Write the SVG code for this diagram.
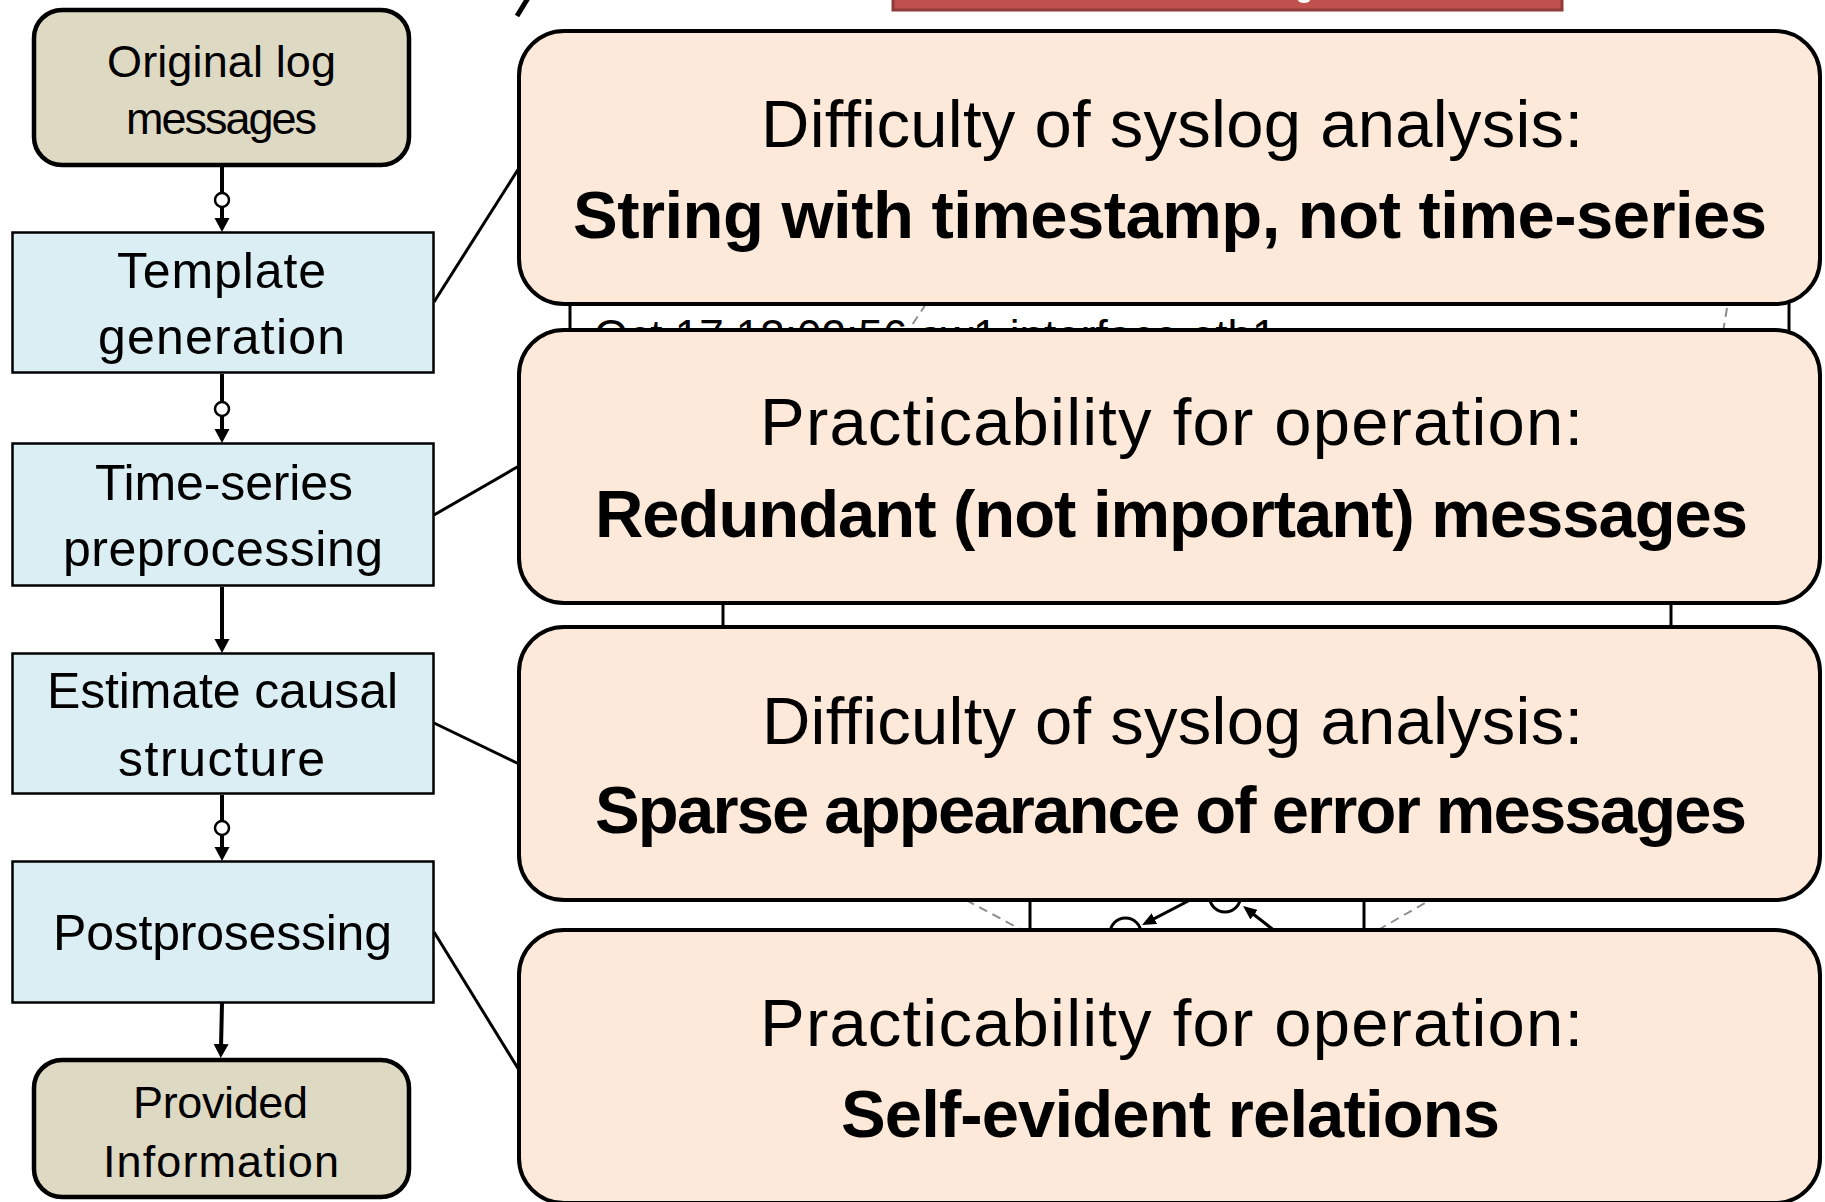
<svg xmlns="http://www.w3.org/2000/svg" width="1825" height="1202" viewBox="0 0 1825 1202">
  <style>
    .lbl { font-family: "Liberation Sans", Arial, sans-serif; fill: #000; }
    .t44 { font-size: 44px; }
    .t45 { font-size: 45px; }
    .t50 { font-size: 50px; }
    .t67 { font-size: 67px; }
    .b { font-weight: bold; }
    .term { fill: #DDD9C3; stroke: #000; stroke-width: 4.5; }
    .step { fill: #DBEEF4; stroke: #000; stroke-width: 2.5; }
    .call { fill: #FDE9D9; stroke: #000; stroke-width: 4; }
    .flow { fill: none; stroke: #000; stroke-width: 4; }
    .tap { fill: #fff; stroke: #000; stroke-width: 2.5; }
    .lead { fill: none; stroke: #000; stroke-width: 3; }
    .frame { fill: none; stroke: #000; stroke-width: 3; }
    .dash { fill: none; stroke: #8C8C8C; stroke-width: 2; stroke-dasharray: 9 6; }
  </style>
  <defs>
    <marker id="ah" viewBox="0 0 14 16" refX="4" refY="8" markerWidth="14" markerHeight="16" markerUnits="userSpaceOnUse" orient="auto">
      <path d="M0,0.5 L14,8 L0,15.5 z" fill="#000"/>
    </marker>
    <marker id="ahs" viewBox="0 0 14 12" refX="4" refY="6" markerWidth="14" markerHeight="12" markerUnits="userSpaceOnUse" orient="auto">
      <path d="M0,0 L14,6 L0,12 z" fill="#000"/>
    </marker>
  </defs>

  <rect width="1825" height="1202" fill="#fff"/>

  <!-- slide backdrop peeking out between the callouts -->
  <g id="backdrop">
    <rect x="893" y="-20" width="669" height="30" fill="#C0504D" stroke="#8E3B39" stroke-width="3"/>
    <ellipse cx="1304" cy="0" rx="6" ry="3" fill="#fff"/>
    <line x1="528" y1="-2" x2="517" y2="16" stroke="#000" stroke-width="5"/>
    <!-- funnel frame edges -->
    <line class="frame" x1="570" y1="295" x2="570" y2="340"/>
    <line class="frame" x1="1789" y1="295" x2="1789" y2="340"/>
    <line class="frame" x1="723" y1="595" x2="723" y2="635"/>
    <line class="frame" x1="1671" y1="595" x2="1671" y2="635"/>
    <line class="frame" x1="1030" y1="892" x2="1030" y2="938"/>
    <line class="frame" x1="1364" y1="892" x2="1364" y2="938"/>
    <text class="lbl t44" x="594" y="351">Oct 17 13:02:56 sw1 interface eth1</text>
    <line class="dash" x1="926" y1="304" x2="906" y2="334"/>
    <line class="dash" x1="1727" y1="308" x2="1723" y2="332"/>
    <line class="dash" x1="966" y1="900" x2="1020" y2="929"/>
    <line class="dash" x1="1378" y1="930" x2="1430" y2="900"/>
    <circle cx="1125.5" cy="933.5" r="15.5" fill="#fff" stroke="#000" stroke-width="3"/>
    <circle cx="1225" cy="896.5" r="15.5" fill="#fff" stroke="#000" stroke-width="3"/>
    <line x1="1194" y1="898" x2="1150.9" y2="920.4" stroke="#000" stroke-width="3" marker-end="url(#ahs)"/>
    <line x1="1280" y1="935" x2="1250.9" y2="912.2" stroke="#000" stroke-width="3" marker-end="url(#ahs)"/>
  </g>

  <!-- flow connectors and callout leaders -->
  <g id="connectors">
    <line class="flow" x1="222" y1="166" x2="222" y2="222" marker-end="url(#ah)"/>
    <circle class="tap" cx="222" cy="200" r="7"/>
    <line class="flow" x1="222" y1="374" x2="222" y2="433" marker-end="url(#ah)"/>
    <circle class="tap" cx="222" cy="409" r="7"/>
    <line class="flow" x1="222" y1="587" x2="222" y2="643" marker-end="url(#ah)"/>
    <line class="flow" x1="222" y1="795" x2="222" y2="851" marker-end="url(#ah)"/>
    <circle class="tap" cx="222" cy="828" r="7"/>
    <line class="flow" x1="222" y1="1003" x2="221" y2="1048" marker-end="url(#ah)"/>

    <line class="lead" x1="434" y1="302" x2="519" y2="168"/>
    <line class="lead" x1="434" y1="515" x2="519" y2="466"/>
    <line class="lead" x1="434" y1="723" x2="519" y2="764"/>
    <line class="lead" x1="434" y1="932" x2="519" y2="1070"/>
  </g>

  <g id="node-original">
    <rect class="term" x="34" y="10" width="375" height="155" rx="28"/>
    <text class="lbl t45" x="107" y="77" textLength="229">Original log</text>
    <text class="lbl t45" x="126" y="134" textLength="191">messages</text>
  </g>

  <g id="node-template">
    <rect class="step" x="12.5" y="232.5" width="421" height="140"/>
    <text class="lbl t50" x="117" y="288" textLength="209">Template</text>
    <text class="lbl t50" x="98" y="354" textLength="247">generation</text>
  </g>

  <g id="node-timeseries">
    <rect class="step" x="12.5" y="443.5" width="421" height="142"/>
    <text class="lbl t50" x="95" y="500" textLength="258">Time-series</text>
    <text class="lbl t50" x="63" y="566" textLength="320">preprocessing</text>
  </g>

  <g id="node-causal">
    <rect class="step" x="12.5" y="653.5" width="421" height="140"/>
    <text class="lbl t50" x="47" y="708" textLength="351">Estimate causal</text>
    <text class="lbl t50" x="118" y="776" textLength="207">structure</text>
  </g>

  <g id="node-post">
    <rect class="step" x="12.5" y="861.5" width="421" height="141"/>
    <text class="lbl t50" x="53" y="950" textLength="339">Postprosessing</text>
  </g>

  <g id="node-provided">
    <rect class="term" x="34" y="1060" width="375" height="137" rx="28"/>
    <text class="lbl t45" x="133" y="1118" textLength="175">Provided</text>
    <text class="lbl t45" x="103" y="1177" textLength="236">Information</text>
  </g>

  <g id="callout-timestamp">
    <rect class="call" x="519" y="31" width="1301" height="273" rx="45"/>
    <text class="lbl t67" x="761" y="147" textLength="822">Difficulty of syslog analysis:</text>
    <text class="lbl t67 b" x="573" y="238" textLength="1194">String with timestamp, not time-series</text>
  </g>

  <g id="callout-redundant">
    <rect class="call" x="519" y="330" width="1301" height="273" rx="45"/>
    <text class="lbl t67" x="760" y="445" textLength="823">Practicability for operation:</text>
    <text class="lbl t67 b" x="595" y="537" textLength="1153">Redundant (not important) messages</text>
  </g>

  <g id="callout-sparse">
    <rect class="call" x="519" y="627" width="1301" height="273" rx="45"/>
    <text class="lbl t67" x="762" y="744" textLength="821">Difficulty of syslog analysis:</text>
    <text class="lbl t67 b" x="595" y="833" textLength="1152">Sparse appearance of error messages</text>
  </g>

  <g id="callout-evident">
    <rect class="call" x="519" y="930" width="1301" height="273" rx="45"/>
    <text class="lbl t67" x="760" y="1046" textLength="823">Practicability for operation:</text>
    <text class="lbl t67 b" x="841" y="1137" textLength="659">Self-evident relations</text>
  </g>
</svg>
